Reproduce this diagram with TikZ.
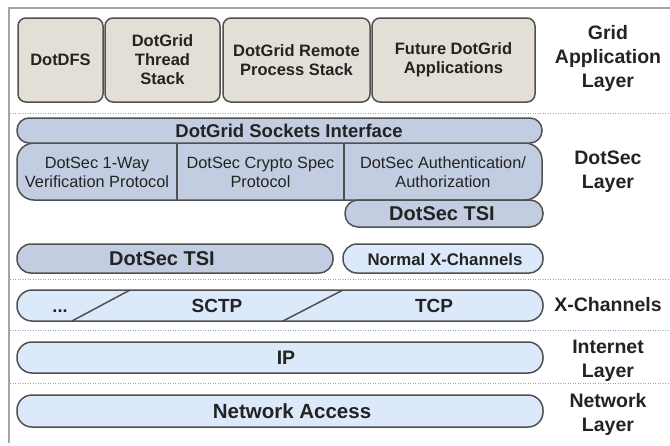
\documentclass[tikz,border=0pt]{standalone}
\usepackage{fontspec}
\setmainfont{Liberation Sans}
\definecolor{appfill}{RGB}{227,223,214}
\definecolor{secfill}{RGB}{194,205,226}
\definecolor{chanfill}{RGB}{219,233,250}
\definecolor{edge}{RGB}{80,80,80}
\definecolor{dotline}{RGB}{140,165,200}
\definecolor{ink}{RGB}{35,35,35}
\begin{document}
\begin{tikzpicture}[x=1pt,y=-1pt,
    box/.style={draw=edge,line width=1.5pt,inner sep=0pt,minimum width=#1},
    appbox/.style={box=#1,fill=appfill,rounded corners=8pt,minimum height=84pt,
        align=center,text=ink,font=\bfseries\fontsize{16.5}{19}\selectfont},
    secbar/.style={box=#1,fill=secfill},
    chanbar/.style={box=#1,fill=chanfill},
    txt/.style={text=ink,font=\bfseries\fontsize{#1}{#1}\selectfont,inner sep=0pt},
    thin/.style={text=ink,align=center,font=\fontsize{16.3}{19}\selectfont,inner sep=0pt},
    side/.style={text=ink,align=center,font=\bfseries\fontsize{19.5}{24}\selectfont,inner sep=0pt}]

    \useasboundingbox (0,0) rectangle (670,445);
    \draw[black!35,line width=2pt] (9,443) -- (9,8) -- (670,8);
    \foreach \y in {113,279,330,383}{
    \draw[dotline,line width=1pt,dash pattern=on 1pt off 1.5pt] (10,\y) -- (670,\y);
    }

    %% grid application layer
    \node[appbox=85pt]  (dfs)    at (60.5,60)  {DotDFS};
    \node[appbox=115pt] (thread) at (162.5,60) {DotGrid\\Thread\\Stack};
    \node[appbox=147pt] (remote) at (296.5,60) {DotGrid Remote\\Process Stack};
    \node[appbox=163pt] (future) at (453.5,60) {Future DotGrid\\Applications};

    %% dotsec layer
    \node[secbar=525pt,minimum height=57pt,rounded corners=17pt] (proto) at (279.5,171.5) {};
    \node[secbar=525pt,minimum height=25pt,rounded corners=12pt] (sockets) at (279.5,130.5) {};
    \draw[edge,line width=1.5pt] (177,143) -- (177,200);
    \draw[edge,line width=1.5pt] (344,143) -- (344,200);
    \node[txt=18.5] (socktxt) at (289,131) {DotGrid Sockets Interface};
    \node[thin] (oneway) at (97,172)  {DotSec 1-Way\\Verification Protocol};
    \node[thin] (crypto) at (260.5,172) {DotSec Crypto Spec\\Protocol};
    \node[thin] (auth)   at (443,172) {DotSec Authentication/\\Authorization};
    \node[secbar=198pt,minimum height=27pt,rounded corners=13pt] (tsiup) at (444,213.5) {};
    \node[txt=20] (tsiuptxt) at (442,214) {DotSec TSI};

    \node[secbar=316pt,minimum height=29pt,rounded corners=14pt] (tsilow) at (175,258.5) {};
    \node[txt=20] (tsilowtxt) at (162,259) {DotSec TSI};
    \node[chanbar=200pt,minimum height=29pt,rounded corners=14pt] (normal) at (443,258.5) {};
    \node[txt=16.8] (normaltxt) at (445,259) {Normal X-Channels};

    %% x-channels, ip, network access
    \node[chanbar=526pt,minimum height=31pt,rounded corners=15pt] (xch) at (280,305.5) {};
    \draw[edge,line width=1.5pt] (72,321) -- (130,290);
    \draw[edge,line width=1.5pt] (283,321) -- (343,290);
    \node[txt=18,anchor=base] (more) at (60,312) {...};
    \node[txt=19] (sctp) at (217,306) {SCTP};
    \node[txt=19] (tcp)  at (434,306) {TCP};
    \node[chanbar=526pt,minimum height=31pt,rounded corners=15pt] (ip) at (280,357.5) {};
    \node[txt=19.5] (iptxt) at (286,358) {IP};
    \node[chanbar=526pt,minimum height=32pt,rounded corners=15pt] (net) at (280,411) {};
    \node[txt=20.5] (nettxt) at (292,411) {Network Access};

    %% layer names
    \node[side] (gridlayer) at (608,58)    {Grid\\Application\\Layer};
    \node[side] (seclayer)  at (608,171.5) {DotSec\\Layer};
    \node[side] (chlayer)   at (608,305)   {X-Channels};
    \node[side] (iplayer)   at (608,360.5) {Internet\\Layer};
    \node[side] (netlayer)  at (608,414.5) {Network\\Layer};
\end{tikzpicture}
\end{document}
